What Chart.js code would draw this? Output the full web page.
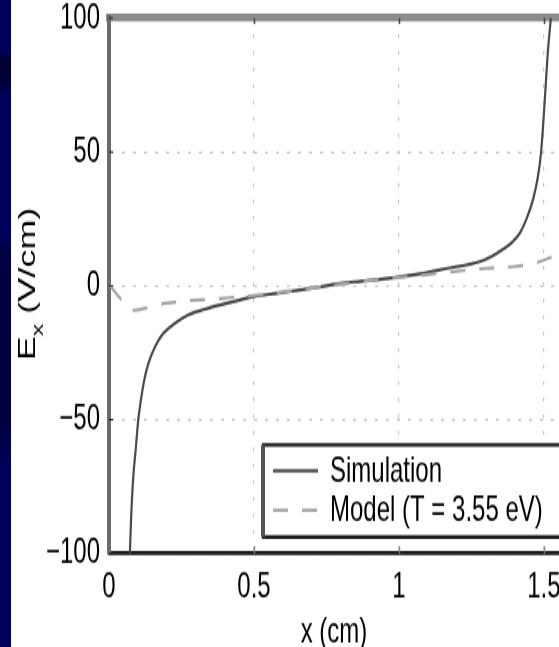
<!DOCTYPE html>
<html>
<head>
<meta charset="utf-8">
<script src="https://cdn.jsdelivr.net/npm/chart.js@4.4.1/dist/chart.umd.min.js"></script>
<style>
  html, body { margin: 0; padding: 0; background: #fff; }
  #frame { position: relative; width: 559px; height: 647px; overflow: hidden; background: #fff; }
  /* the figure is drawn at a reduced height and stretched vertically to its display size */
  #plot { position: absolute; left: 0; top: 0; transform-origin: 0 0; transform: scaleY(1.50116); }
  #edge {
    position: absolute; left: 0; top: 0; width: 11px; height: 647px;
    background: linear-gradient(to bottom,
      #00005c 0px, #00005c 50px, #00002e 60px, #000038 80px, #00005a 95px,
      #00005a 235px, #000042 252px, #00003e 420px, #00005c 470px, #00005c 647px);
  }
</style>
</head>
<body>
<div id="frame">
  <canvas id="plot" width="559" height="431"></canvas>
  <div id="edge"></div>
</div>
<script>
// Electric field along x: particle simulation vs. analytic model
const simX = [0.072, 0.076, 0.083, 0.093, 0.101, 0.110, 0.122, 0.136, 0.159, 0.187,
              0.228, 0.273, 0.331, 0.383, 0.44, 0.497, 0.58, 0.659, 0.75, 0.797,
              0.87, 0.934, 1.048, 1.166, 1.279, 1.32, 1.355, 1.39, 1.417, 1.44,
              1.462, 1.478, 1.49, 1.503, 1.514, 1.524];
const simE = [-100, -87.5, -72.5, -60, -50, -42.7, -35, -29, -22.7, -17.8,
              -14, -10.9, -8.8, -7.2, -5.6, -4.1, -2.8, -1.6, 0, 0.9,
              1.7, 2.4, 4.0, 6.5, 9.0, 11, 13.4, 16.2, 19.7, 25,
              32, 40, 49.6, 69.4, 88, 100];

const modelX = [0.003, 0.02, 0.038, 0.055, 0.072, 0.1, 0.124, 0.15, 0.2, 0.27,
                0.33, 0.4, 0.5, 0.6, 0.7, 0.8, 0.9, 1.0, 1.1, 1.2,
                1.3, 1.4, 1.45, 1.5, 1.53, 1.552];
const modelE = [0.3, -2.3, -4.6, -7.5, -9.2, -9.0, -8.4, -7.6, -6.5, -5.6,
                -5.2, -4.6, -3.6, -2.3, -0.9, 0.6, 1.9, 3.1, 4.2, 5.4,
                6.5, 7.2, 8.0, 9.6, 10.8, 11.3];

const seriesNames = ['Simulation', 'Model (T = 3.55 eV)'];

const xTicks = [0, 0.5, 1, 1.5];
const xTickLabels = ['0', '0.5', '1', '1.5'];
const yTicks = [-100, -50, 0, 50, 100];
const yTickLabels = ['\u2212100', '\u221250', '0', '50', '100'];

const xRange = [0, 1.552];
const yRange = [-100, 100];

const FONT = '"Liberation Sans", Arial, Helvetica, sans-serif';

const toPoints = (xs, ys) => xs.map((x, i) => ({ x: x, y: ys[i] }));

const noEdgePadding = s => {
  s.paddingTop = 0; s.paddingBottom = 0; s.paddingLeft = 0; s.paddingRight = 0;
};

// axis title with a subscript, written upward along the left edge
const yTitle = {
  id: 'yTitle',
  afterDraw(chart) {
    const ctx = chart.ctx;
    ctx.save();
    ctx.translate(35, 189.2);
    ctx.rotate(-Math.PI / 2);
    ctx.fillStyle = '#000';
    ctx.textBaseline = 'alphabetic';
    ctx.textAlign = 'left';
    ctx.font = '24px ' + FONT;
    const wE = ctx.measureText('E').width;
    const rest = ' (V/cm)';
    const wR = ctx.measureText(rest).width;
    ctx.font = '17px ' + FONT;
    const wS = ctx.measureText('x').width;
    let x = -(wE + wS + wR) / 2;
    ctx.font = '24px ' + FONT;
    ctx.fillText('E', x, 0);
    x += wE;
    ctx.font = '17px ' + FONT;
    ctx.fillText('x', x, 8);
    x += wS;
    ctx.font = '24px ' + FONT;
    ctx.fillText(rest, x, 0);
    ctx.restore();
  }
};

// short inward tick marks on the frame
const innerTicks = {
  id: 'innerTicks',
  afterDatasetsDraw(chart) {
    const ctx = chart.ctx;
    const a = chart.chartArea;
    const xs = chart.scales.x, ys = chart.scales.y;
    ctx.save();
    ctx.lineWidth = 1.5;
    xTicks.forEach(v => {
      if (v === 0) return;
      const px = Math.round(xs.getPixelForValue(v)) + 0.5;
      ctx.strokeStyle = '#444';
      ctx.beginPath(); ctx.moveTo(px, a.top); ctx.lineTo(px, a.top + 4); ctx.stroke();
      ctx.strokeStyle = '#888';
      ctx.beginPath(); ctx.moveTo(px, a.bottom); ctx.lineTo(px, a.bottom - 5); ctx.stroke();
    });
    ctx.strokeStyle = '#222';
    ctx.lineWidth = 1;
    yTicks.forEach(v => {
      const py = ys.getPixelForValue(v);
      ctx.beginPath(); ctx.moveTo(a.left, py); ctx.lineTo(a.left + 4, py); ctx.stroke();
    });
    ctx.restore();
  }
};

// boxed legend in the lower right of the plot
const boxLegend = {
  id: 'boxLegend',
  afterDraw(chart) {
    const ctx = chart.ctx;
    const L = 262, T = 296.4, B = 357.7, R = chart.width + 10;
    ctx.save();
    ctx.fillStyle = '#fff';
    ctx.fillRect(L, T, R - L, B - T);
    ctx.strokeStyle = '#151515';
    ctx.lineWidth = 2.4;
    ctx.beginPath();
    ctx.moveTo(L, T); ctx.lineTo(R, T);
    ctx.moveTo(L, B); ctx.lineTo(R, B);
    ctx.stroke();
    ctx.strokeStyle = '#555';
    ctx.lineWidth = 4;
    ctx.beginPath(); ctx.moveTo(L + 1, T); ctx.lineTo(L + 1, B); ctx.stroke();

    const rows = [313.6, 339.8];
    chart.data.datasets.forEach((ds, i) => {
      const y = rows[i];
      ctx.strokeStyle = ds.borderColor;
      ctx.lineWidth = ds.borderWidth;
      ctx.setLineDash(ds.borderDash || []);
      ctx.beginPath(); ctx.moveTo(273, y); ctx.lineTo(318, y); ctx.stroke();
      ctx.setLineDash([]);
      ctx.fillStyle = '#000';
      ctx.font = '24px ' + FONT;
      ctx.textAlign = 'left';
      ctx.textBaseline = 'middle';
      ctx.fillText(ds.label, 330, y + 1);
    });
    ctx.restore();
  }
};

new Chart(document.getElementById('plot'), {
  type: 'scatter',
  data: {
    datasets: [
      {
        label: seriesNames[0],
        data: toPoints(simX, simE),
        showLine: true,
        borderColor: '#4a4a4a',
        borderWidth: 2.2,
        pointRadius: 0,
        cubicInterpolationMode: 'monotone',
        order: 1
      },
      {
        label: seriesNames[1],
        data: toPoints(modelX, modelE),
        showLine: true,
        borderColor: '#a6a6a6',
        borderWidth: 2.2,
        borderDash: [15, 14],
        pointRadius: 0,
        cubicInterpolationMode: 'monotone',
        order: 0
      }
    ]
  },
  options: {
    responsive: false,
    animation: false,
    devicePixelRatio: 1,
    layout: { padding: 0 },
    plugins: {
      legend: { display: false },
      tooltip: { enabled: false }
    },
    scales: {
      x: {
        type: 'linear',
        position: 'bottom',
        min: xRange[0],
        max: xRange[1],
        afterBuildTicks: s => { s.ticks = xTicks.map(v => ({ value: v })); },
        afterFit: s => { s.height = 62.3; noEdgePadding(s); },
        grid: { color: '#c4c4c4', lineWidth: 1.2, drawTicks: false },
        border: { display: true, color: '#1c1c1c', width: 2.7, dash: [2.5, 8.5] },
        ticks: {
          padding: 8,
          color: '#000',
          font: { family: FONT, size: 24 },
          maxRotation: 0,
          callback: v => xTickLabels[xTicks.indexOf(v)]
        },
        title: {
          display: true,
          text: 'x (cm)',
          color: '#000',
          font: { family: FONT, size: 24, lineHeight: 0.8 },
          padding: { top: 0, bottom: 0 }
        }
      },
      xTop: {
        type: 'linear',
        position: 'top',
        min: xRange[0],
        max: xRange[1],
        afterFit: s => { s.height = 12; noEdgePadding(s); },
        grid: { display: false, drawTicks: false },
        border: { display: true, color: '#8c8c8c', width: 5.3 },
        ticks: { display: false }
      },
      y: {
        type: 'linear',
        position: 'left',
        min: yRange[0],
        max: yRange[1],
        afterBuildTicks: s => { s.ticks = yTicks.map(v => ({ value: v })); },
        afterFit: s => { s.width = 109; noEdgePadding(s); },
        grid: { color: '#c4c4c4', lineWidth: 1.2, drawTicks: false },
        border: { display: true, color: '#6b6b6b', width: 4, dash: [3, 8] },
        ticks: {
          padding: 9,
          color: '#000',
          font: { family: FONT, size: 24 },
          callback: v => yTickLabels[yTicks.indexOf(v)]
        },
        title: { display: false }
      }
    }
  },
  plugins: [innerTicks, yTitle, boxLegend]
});
</script>
</body>
</html>
